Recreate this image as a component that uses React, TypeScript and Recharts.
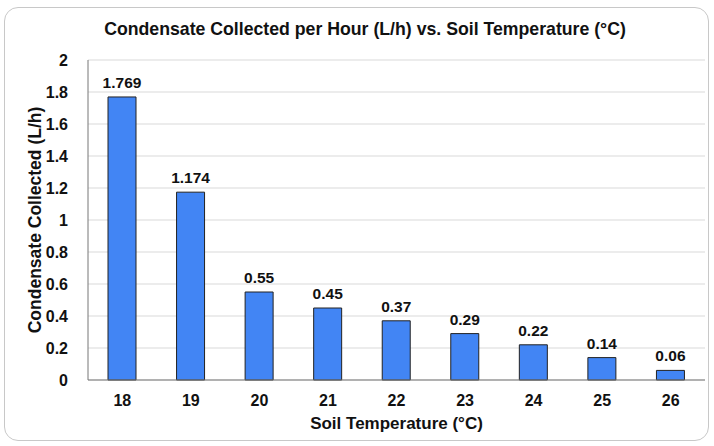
import { BarChart, Bar, XAxis, YAxis, CartesianGrid, LabelList } from "recharts";

const temperatures = ["18", "19", "20", "21", "22", "23", "24", "25", "26"];
const condensate = [1.769, 1.174, 0.55, 0.45, 0.37, 0.29, 0.22, 0.14, 0.06];
const yTicks = [0, 0.2, 0.4, 0.6, 0.8, 1, 1.2, 1.4, 1.6, 1.8, 2];

const rows = temperatures.map((t, i) => ({ temp: t, value: condensate[i] }));

const FONT = "'Liberation Sans', Arial, sans-serif";

export default function App() {
    return (
        <div
            style={{
                position: "absolute",
                left: 0,
                top: 0,
                width: 714,
                height: 446,
                background: "#fff",
                fontFamily: FONT,
            }}
        >
            <div
                style={{
                    position: "absolute",
                    left: 4,
                    top: 7,
                    width: 703,
                    height: 432,
                    border: "1px solid #c8c8c8",
                    borderRadius: 14,
                }}
            />
            <div
                style={{
                    position: "absolute",
                    left: 0,
                    top: 19,
                    width: 730,
                    textAlign: "center",
                    fontSize: 17.7,
                    fontWeight: "bold",
                    color: "#111",
                }}
            >
                Condensate Collected per Hour (L/h) vs. Soil Temperature (°C)
            </div>
            <BarChart
                width={714}
                height={446}
                data={rows}
                margin={{ top: 60, right: 9, bottom: 0, left: 0 }}
                style={{ position: "absolute", left: 0, top: 0 }}
            >
                <CartesianGrid vertical={false} stroke="#d9d9d9" />
                <XAxis
                    dataKey="temp"
                    height={66}
                    tickLine={false}
                    axisLine={{ stroke: "#777" }}
                    tick={{ fill: "#111", fontSize: 16, fontWeight: "bold", fontFamily: FONT }}
                    tickMargin={9}
                    label={{
                        value: "Soil Temperature (°C)",
                        position: "insideBottom",
                        offset: 17,
                        style: { fill: "#111", fontSize: 17, fontWeight: "bold", fontFamily: FONT },
                    }}
                />
                <YAxis
                    width={88}
                    domain={[0, 2]}
                    ticks={yTicks}
                    interval={0}
                    tickLine={false}
                    axisLine={{ stroke: "#777" }}
                    tick={{ fill: "#111", fontSize: 16, fontWeight: "bold", fontFamily: FONT }}
                    tickMargin={14}
                    label={{
                        value: "Condensate Collected (L/h)",
                        angle: -90,
                        position: "insideLeft",
                        offset: 35,
                        style: { textAnchor: "middle", fill: "#111", fontSize: 17.5, fontWeight: "bold", fontFamily: FONT },
                    }}
                />
                <Bar
                    dataKey="value"
                    fill="#4285f4"
                    stroke="#222"
                    strokeWidth={1}
                    barSize={28}
                    isAnimationActive={false}
                >
                    <LabelList
                        dataKey="value"
                        position="top"
                        offset={9}
                        style={{ fill: "#111", fontSize: 15.5, fontWeight: "bold", fontFamily: FONT }}
                    />
                </Bar>
            </BarChart>
        </div>
    );
}
